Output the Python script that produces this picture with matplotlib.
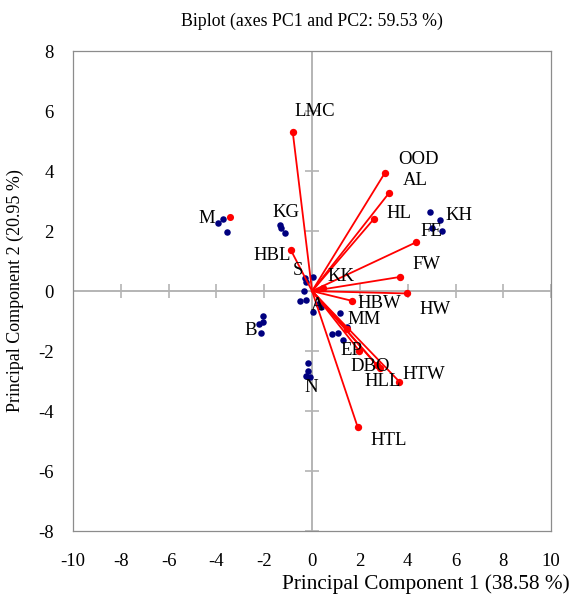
import matplotlib
matplotlib.use("Agg")
import matplotlib.pyplot as plt

plt.rcParams['font.family'] = ['Liberation Serif', 'DejaVu Serif']

# Variables (loadings, scaled)
var_names = ["LMC", "OOD", "AL", "HL", "FE", "FW", "HW", "HBW", "HBL", "KK",
             "MM", "EP", "DBO", "HLL", "HTW", "HTL"]
var_x = [-0.81, 3.03, 3.23, 2.59, 4.36, 3.67, 3.96, 1.69, -0.89, 0.45,
         1.45, 1.97, 2.82, 2.70, 3.65, 1.91]
var_y = [5.31, 3.92, 3.28, 2.41, 1.63, 0.47, -0.08, -0.33, 1.37, 0.10,
         -1.25, -1.99, -2.58, -2.45, -3.02, -4.54]
var_lab_x = [0.13, 4.44, 4.31, 3.64, 4.98, 4.77, 5.15, 2.80, -1.67, 1.21,
             2.18, 1.63, 2.43, 2.97, 4.69, 3.22]
var_lab_y = [6.00, 4.37, 3.70, 2.57, 1.97, 0.90, -0.60, -0.43, 1.20, 0.50,
             -0.95, -1.97, -2.50, -3.00, -2.77, -4.97]

# Observations
obs_x = [-3.95, -3.71, -3.57,
         -1.34, -1.30, -1.13,
         -0.29, -0.25, 0.05, -0.33, -0.50, -0.26,
         0.05, 0.36, 0.25,
         -2.06, -2.04, -2.20, -2.12,
         -0.18, -0.15, -0.25, -0.08,
         1.17, 1.45, 0.85, 1.10, 1.28,
         4.94, 5.34, 5.03, 5.45]
obs_y = [2.28, 2.39, 1.97,
         2.20, 2.11, 1.94,
         0.42, 0.31, 0.46, 0.00, -0.33, -0.30,
         -0.71, -0.52, -0.43,
         -0.83, -1.02, -1.10, -1.39,
         -2.41, -2.66, -2.83, -2.86,
         -0.74, -1.19, -1.43, -1.41, -1.63,
         2.63, 2.37, 2.09, 2.00]
extra_red_x = [-3.43]
extra_red_y = [2.48]

grp_names = ["M", "KG", "S", "A", "B", "N", "KH"]
grp_lab_x = [-4.39, -1.09, -0.59, 0.25, -2.55, -0.04, 6.15]
grp_lab_y = [2.43, 2.63, 0.67, -0.47, -1.33, -3.20, 2.53]

xticks = [-10, -8, -6, -4, -2, 0, 2, 4, 6, 8, 10]
yticks = [-8, -6, -4, -2, 0, 2, 4, 6, 8]

fig = plt.figure(figsize=(5.70, 5.94), dpi=100)
ax = fig.add_axes([0.128, 0.106, 0.839, 0.808])
ax.set_xlim(-10, 10)
ax.set_ylim(-8, 8)

for s in ax.spines.values():
    s.set_color('#8c8c8c')
    s.set_linewidth(0.9)
ax.set_xticks(xticks)
ax.set_yticks(yticks)
ax.set_xticklabels([str(t) for t in xticks])
ax.set_yticklabels([str(t) for t in yticks])
ax.tick_params(length=0, labelsize=13.5, colors='black')
ax.tick_params(axis='x', pad=16)
ax.tick_params(axis='y', pad=14)

# central axes through origin
gray = '#b4b4b4'
ax.axhline(0, color=gray, lw=1.4, zorder=1)
ax.axvline(0, color=gray, lw=1.4, zorder=1)
ax.plot(xticks, [0]*len(xticks), linestyle='none', marker='|', markersize=10,
        markeredgewidth=1.2, color=gray, zorder=1)
ax.plot([0]*len(yticks), yticks, linestyle='none', marker='_', markersize=10,
        markeredgewidth=1.2, color=gray, zorder=1)

# observations
ax.scatter(obs_x, obs_y, s=22, color='#00007f', zorder=2, linewidths=0)
ax.scatter(extra_red_x, extra_red_y, s=26, color='#ff0000', zorder=3, linewidths=0)

# loadings arrows
for x, y in zip(var_x, var_y):
    ax.plot([0, x], [0, y], color='#ff0000', lw=1.3, zorder=3)
ax.scatter(var_x, var_y, s=28, color='#ff0000', zorder=4, linewidths=0)

for n, x, y in zip(var_names, var_lab_x, var_lab_y):
    ax.text(x, y, n, fontsize=13.5, ha='center', va='center', zorder=5)
for n, x, y in zip(grp_names, grp_lab_x, grp_lab_y):
    ax.text(x, y, n, fontsize=13.5, ha='center', va='center', zorder=5)

ax.set_title("Biplot (axes PC1 and PC2: 59.53 %)", fontsize=12.8, pad=18)
ax.set_xlabel("Principal Component 1 (38.58 %)", fontsize=15.3)
ax.xaxis.set_label_coords(1.038, -0.09)
ax.xaxis.label.set_horizontalalignment('right')
ax.set_ylabel("Principal Component 2 (20.95 %)", fontsize=13, labelpad=10)

fig.savefig("out.png", dpi=100)
